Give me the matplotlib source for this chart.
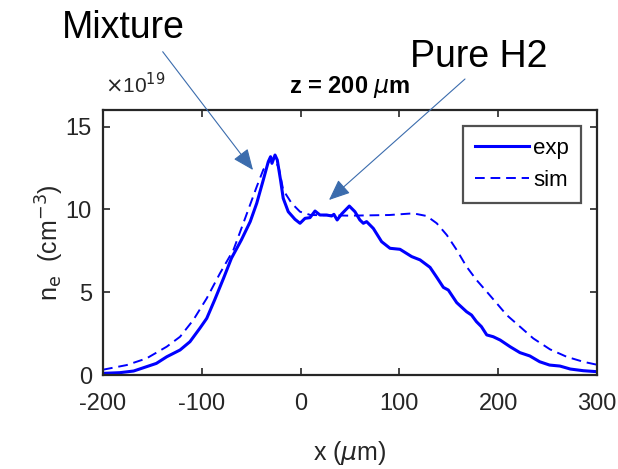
import matplotlib
matplotlib.use("Agg")
import matplotlib.pyplot as plt

# Electron density profiles at z = 200 um
exp_x = [-200, -183, -169, -159, -146, -135.5, -122, -112, -102, -95, -87, -78,
         -70, -60, -51, -44.4, -37.8, -32.7, -30.4, -29, -25.9, -23.6, -20.3,
         -17.6, -12.5, -5.7, -0.6, 4.5, 9.5, 14.6, 19.6, 26.4, 31.4, 33.7, 37,
         41.5, 49.3, 55, 60, 63.5, 66.8, 73.6, 82, 90.5, 100.6, 112.4, 120.9,
         131, 137.8, 144.5, 149.5, 158, 168, 173, 178, 183, 188.4, 195, 202,
         212, 222, 232, 242, 252, 262.5, 273, 286, 300]
exp_y = [0.1, 0.14, 0.24, 0.44, 0.7, 1.1, 1.51, 2.01, 2.82, 3.42, 4.53, 5.84,
         7.05, 8.15, 9.26, 10.37, 11.77, 12.88, 13.18, 12.78, 13.28, 12.98, 11.77,
         10.67, 9.86, 9.4, 9.16, 9.46, 9.5, 9.9, 9.66, 9.66, 9.6, 9.7, 9.36,
         9.72, 10.2, 9.86, 9.36, 9.16, 9.26, 8.85, 8.05, 7.65, 7.59, 7.15, 6.95,
         6.5, 5.9, 5.29, 5.13, 4.37, 3.82, 3.62, 3.22, 2.92, 2.42, 2.31, 2.11,
         1.71, 1.35, 1.15, 0.8, 0.6, 0.54, 0.36, 0.26, 0.2]

sim_x = [-200, -176, -156, -135.5, -122, -108.6, -95, -81.6, -68, -58, -44.4,
         -37.7, -31, -27, -22, -17.6, -9.1, -0.6, 10, 50, 90, 114, 127.6, 137.8,
         148, 158, 168, 178, 188.4, 198.5, 208.6, 222, 235.5, 252.4, 269.3, 286,
         300]
sim_y = [0.32, 0.6, 1.0, 1.71, 2.31, 3.32, 4.63, 6.14, 7.55, 9.16, 11.37, 12.4,
         12.95, 13.1, 12.5, 11.17, 10.37, 9.86, 9.66, 9.62, 9.66, 9.76, 9.6, 9.16,
         8.45, 7.55, 6.54, 5.74, 5.03, 4.33, 3.62, 2.92, 2.21, 1.55, 1.1, 0.8,
         0.62]

x_ticks = [-200, -100, 0, 100, 200, 300]
y_ticks = [0, 5, 10, 15]

AX_FONT = ["Liberation Sans", "DejaVu Sans"]
plt.rcParams["mathtext.fontset"] = "dejavusans"

W, H = 618, 469
fig = plt.figure(figsize=(W / 100, H / 100), dpi=100)
ax = fig.add_axes([103 / W, (H - 375) / H, 494 / W, 265 / H])

ax.plot(exp_x, exp_y, color="#0000ff", lw=2.2, label="exp")
ax.plot(sim_x, sim_y, color="#0000ff", lw=1.4, ls=(0, (5, 3)), label="sim")

ax.set_xlim(-200, 300)
ax.set_ylim(0, 16)
ax.set_xticks(x_ticks)
ax.set_yticks(y_ticks)
ax.set_xticklabels([str(t) for t in x_ticks], family=AX_FONT, fontsize=17)
ax.set_yticklabels([str(t) for t in y_ticks], family=AX_FONT, fontsize=17)

axc = "#262626"
for s in ax.spines.values():
    s.set_color(axc)
    s.set_linewidth(1.6)
ax.tick_params(direction="in", length=5, width=1.2, color=axc, labelcolor=axc,
               top=True, right=True)
ax.tick_params(axis="x", pad=13)
ax.tick_params(axis="y", pad=8)

ax.set_xlabel(r"x ($\mu$m)", family=AX_FONT, fontsize=18, color=axc, labelpad=17)
ax.set_ylabel(r"n$_{\rm e}$  (cm$^{-3}$)", family=AX_FONT, fontsize=18, color=axc,
              labelpad=0)
ax.set_title(r"z = 200 $\mu$m", family=AX_FONT, fontsize=17, fontweight="bold",
             color="black", pad=12)

fig.text(105 / W, 1 - 93 / H, r"$\times$10$^{19}$", family=AX_FONT, fontsize=15,
         color=axc, ha="left", va="baseline")

leg = ax.legend(loc="upper right", bbox_to_anchor=(0.968, 0.94),
                prop={"family": AX_FONT, "size": 16},
                frameon=True, fancybox=False, handlelength=2.4, handletextpad=0.2,
                borderpad=0.55, labelspacing=0.5, borderaxespad=0)
leg.get_frame().set_edgecolor(axc)
leg.get_frame().set_linewidth(1.6)

arrow_c = "#3b6cad"
fig.text(62 / W, 1 - 38 / H, "Mixture", family=AX_FONT, fontsize=27,
         ha="left", va="baseline", color="black")
fig.text(410 / W, 1 - 66.7 / H, "Pure H2", family=AX_FONT, fontsize=27,
         ha="left", va="baseline", color="black")

def px_to_data(px, py):
    return (-200 + (px - 103) / 494 * 500, (375 - py) / 265 * 16)

for start, tip in [((162.7, 51.7), (253, 170)), ((465, 79), (329, 200))]:
    ax.annotate("", xy=px_to_data(*tip), xycoords="data",
                xytext=(start[0] / W, 1 - start[1] / H), textcoords="figure fraction",
                arrowprops=dict(arrowstyle="-|>,head_length=1.3,head_width=0.55",
                                mutation_scale=10, color=arrow_c, lw=0.8,
                                shrinkA=0, shrinkB=0),
                annotation_clip=False)

fig.savefig("out.png", dpi=100)
